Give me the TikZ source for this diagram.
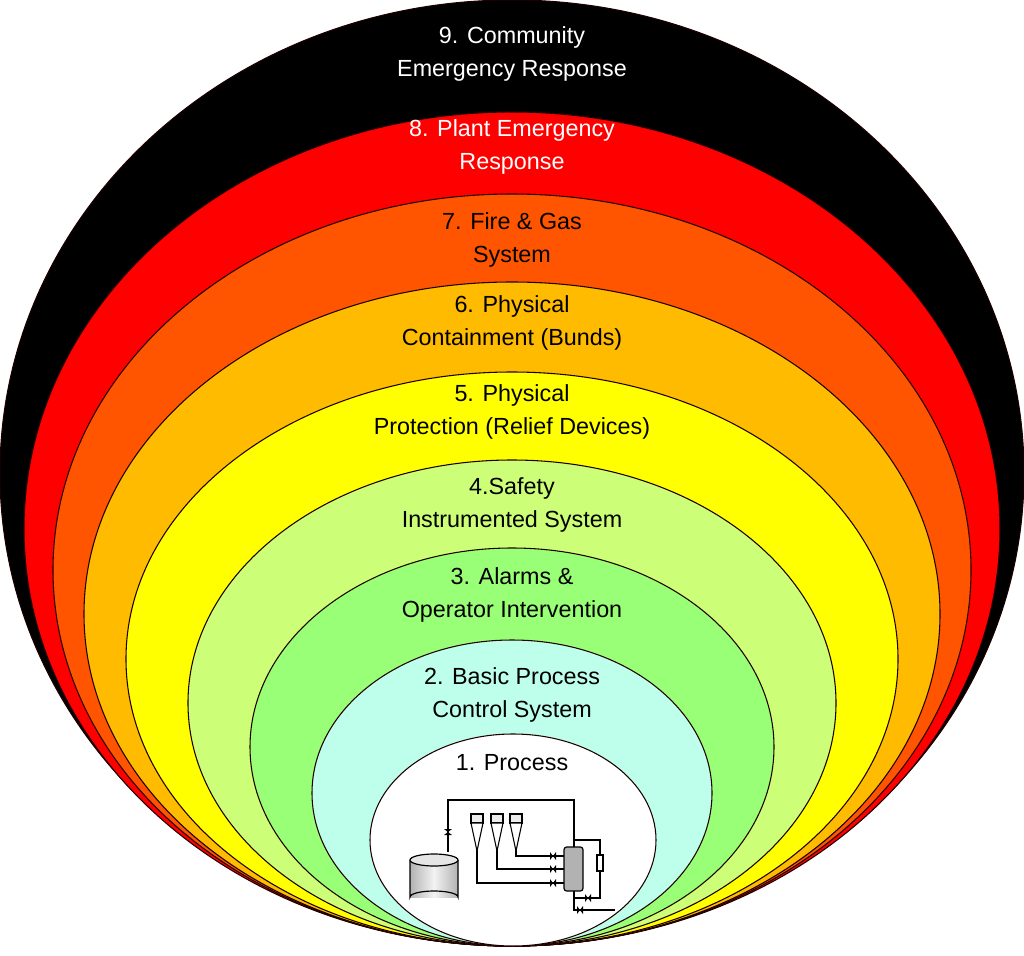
\documentclass[tikz,border=0pt]{standalone}
\usepackage{fontspec}
\setmainfont{Liberation Sans}
\begin{document}
\begin{tikzpicture}[x=0.75pt,y=-0.75pt,
  lay/.style={draw=black!70!red!40!black,line width=0.8pt},
  lbl/.style={align=center,font=\fontsize{17.5}{24.5}\selectfont,inner sep=0pt},
  pipe/.style={line width=1pt},
  vlv/.style={fill=black}]
\useasboundingbox (0,0) rectangle (1024,956);
\fill[white] (0,0) rectangle (1024,956);
\path[lay,fill=black] (512,473) ellipse (512 and 473);
\path[lay,fill={rgb,255:red,255;green,0;blue,0}] (512,529) ellipse (488 and 417);
\path[lay,fill={rgb,255:red,255;green,85;blue,0}] (512,570) ellipse (459 and 376);
\path[lay,fill={rgb,255:red,255;green,187;blue,0}] (512,614) ellipse (428 and 332);
\path[lay,fill={rgb,255:red,255;green,255;blue,0}] (512,659) ellipse (386 and 287);
\path[lay,fill={rgb,255:red,204;green,255;blue,119}] (512,703) ellipse (324 and 243);
\path[lay,fill={rgb,255:red,153;green,255;blue,119}] (512,747) ellipse (262 and 199);
\path[lay,fill={rgb,255:red,190;green,255;blue,235}] (512,793) ellipse (200 and 153);
\path[lay,fill=white] (513,840) ellipse (143 and 106);
\node[lbl,text=white] (l9) at (512,54) {9. Community\\Emergency Response};
\node[lbl,text=white] (l8) at (512,147) {8. Plant Emergency\\Response};
\node[lbl] (l7) at (512,240) {7. Fire \& Gas\\System};
\node[lbl] (l6) at (512,323) {6. Physical\\Containment (Bunds)};
\node[lbl] (l5) at (512,412) {5. Physical\\Protection (Relief Devices)};
\node[lbl] (l4) at (512,505) {4.Safety\\Instrumented System};
\node[lbl] (l3) at (512,595) {3. Alarms \&\\Operator Intervention};
\node[lbl] (l2) at (512,695) {2. Basic Process\\Control System};
\node[lbl] (l1) at (512,763) {1. Process};
% process sketch
\draw[pipe] (448,852) -- (448,800) -- (574,800) -- (574,847);
\draw[pipe] (477,850) -- (477,883) -- (564,883);
\draw[pipe] (497,850) -- (497,869) -- (564,869);
\draw[pipe] (516,850) -- (516,856) -- (564,856);
\draw[pipe] (574,840) -- (600,840) -- (600,898) -- (574,898);
\draw[pipe] (574,891) -- (574,910) -- (615,910);
\draw[fill=white,line width=0.8pt] (597,855) rectangle (603,871);
\foreach \cx in {477,497,516}{
  \draw[fill=gray!15,line width=0.8pt] (\cx-6,814) rectangle (\cx+6,823);
  \draw[fill=white,line width=0.8pt] (\cx-6,823) -- (\cx+6,823) -- (\cx,851) -- cycle;}
\draw[fill=gray!60,line width=0.9pt,rounded corners=2pt] (564,847) rectangle (583,891);
\shade[left color=gray!60,right color=gray!60,middle color=gray!10] (410,860) rectangle (458,897);
\draw[line width=0.9pt] (410,860) -- (410,897) arc[start angle=180,end angle=360,x radius=24,y radius=6] -- (458,860);
\draw[fill=gray!20,line width=0.9pt] (434,860) ellipse (24 and 6);
\foreach \vx/\vy in {553/856,553/869,553/883,588/898,580/910}{
  \fill (\vx-3,\vy-4) -- (\vx+3,\vy+4) -- (\vx+3,\vy-4) -- (\vx-3,\vy+4) -- cycle;}
\fill (444,829) -- (452,835) -- (444,835) -- (452,829) -- cycle;
\end{tikzpicture}
\end{document}
